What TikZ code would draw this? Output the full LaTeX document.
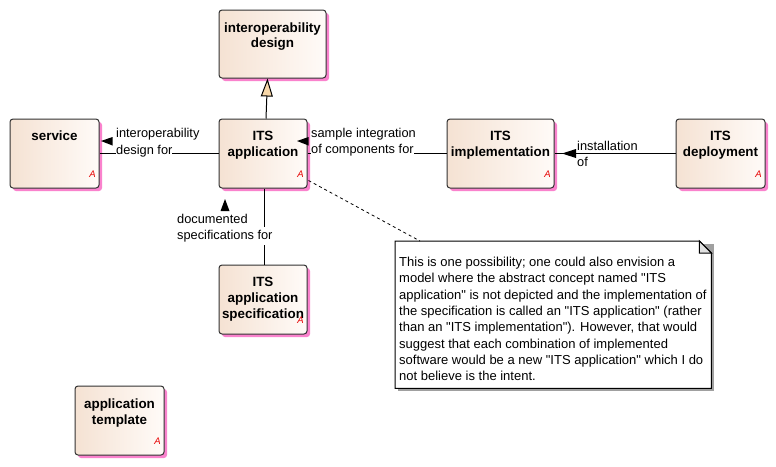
\documentclass[tikz,border=0pt]{standalone}
\usepackage{fontspec}
\setmainfont{Liberation Sans}
\usetikzlibrary{shadows,calc,arrows.meta}
\definecolor{clsL}{RGB}{245,226,211}
\definecolor{clsR}{RGB}{255,251,248}
\definecolor{clsBorder}{RGB}{50,50,50}
\definecolor{shadowpink}{RGB}{250,130,205}
\definecolor{genfill}{RGB}{247,215,168}
\definecolor{redA}{RGB}{230,0,0}
\definecolor{noteshadow}{RGB}{160,160,160}
\definecolor{foldfill}{RGB}{225,225,225}
\newcommand{\qq}{\textquotedbl{}}
\begin{document}
\begin{tikzpicture}[x=1pt,y=-1pt,
  cls/.style={draw=clsBorder, line width=1pt, rounded corners=3pt, left color=clsL, right color=clsR,
    inner sep=0pt, minimum width=89pt, minimum height=69pt,
    drop shadow={fill=shadowpink, shadow xshift=3pt, shadow yshift=-3pt, opacity=1}},
  title/.style={font=\bfseries\fontsize{13.4}{16}\selectfont, align=center, anchor=base, inner sep=0pt},
  amark/.style={font=\itshape\fontsize{9.5}{10}\selectfont, text=redA, inner sep=0pt},
  lbl/.style={font=\fontsize{12.8}{15}\selectfont, anchor=base west, inner sep=0pt},
  lblw/.style={lbl, fill=white, inner ysep=3pt},
  conn/.style={line width=1pt, draw=black},
  gen/.style={conn, -{Triangle[fill=genfill, length=18pt, width=12pt]}},
  notelink/.style={line width=0.8pt, dash pattern=on 3pt off 3pt},
  dir/.style={fill=black},
]
\useasboundingbox (0,0) rectangle (776,466);
\fill[white] (0,0) rectangle (776,466);

% classes (title anchors are the baseline of the LAST line)
\node[cls, minimum width=107pt, minimum height=68pt] (idesign) at (272.5,44) {};
\node[title, font=\bfseries\fontsize{13.4}{15}\selectfont] (idesignT) at (272.5,47.5) {interoperability\\design};

\node[cls] (service) at (54.5,153.5) {};
\node[title] (serviceT) at (54.5,140.5) {service};

\node[cls, minimum width=88pt] (app) at (263,153.5) {};
\node[title] (appT) at (263,156.5) {ITS\\application};

\node[cls, minimum width=107pt] (impl) at (500.5,153.5) {};
\node[title] (implT) at (500.5,156.5) {ITS\\implementation};

\node[cls] (deploy) at (720.5,153.5) {};
\node[title] (deployT) at (720.5,156.5) {ITS\\deployment};

\node[cls, minimum width=88pt] (spec) at (263,299.5) {};
\node[title] (specT) at (263,318.5) {ITS\\application\\specification};

\node[cls] (templ) at (119.5,420.5) {};
\node[title] (templT) at (119.5,424.5) {application\\template};

% "A" marks
\foreach \n in {service,app,impl,deploy,spec,templ}
  \node[amark] (A\n) at ($(\n.south east)+(-7,-14)$) {A};

% connectors
\draw[gen] ($(app.north)+(3,0)$) -- ($(idesign.south)+(-5,0)$);
\draw[conn] (service) -- (app);
\draw[conn] (app) -- (impl);
\draw[conn] (impl) -- (deploy);
\draw[conn] ($(app.south)+(1,0)$) -- ($(spec.north)+(1,0)$);

% direction triangles
\fill[dir] (101,141) -- (112.5,137) -- (112.5,145.5) -- cycle;
\fill[dir] (297,141) -- (308.5,137) -- (308.5,145.5) -- cycle;
\fill[dir] (562,153.5) -- (576,149) -- (576,158) -- cycle;
\fill[dir] (225,199) -- (220.5,211) -- (229.5,211) -- cycle;

% labels (white-backed first)
\node[lblw] (l1b) at (116,154.5) {design for};
\node[lbl]  (l1a) at (116,137.5) {interoperability};
\node[lblw] (l2b) at (311,153.5) {of components for};
\node[lbl]  (l2a) at (311,137.5) {sample integration};
\node[lblw] (l3b) at (577,166.5) {of};
\node[lbl]  (l3a) at (577,150.5) {installation};
\node[lblw] (l4b) at (177,239.5) {specifications for};
\node[lbl]  (l4a) at (177,223.5) {documented};

% note
\node[minimum width=316pt, minimum height=147pt, inner sep=0pt, anchor=north west] (notebox) at (395,241) {};
\fill[noteshadow] ($(notebox.north west)+(3,3)$) -- ($(notebox.north east)+(3,3)$) -- ($(notebox.south east)+(3,3)$) -- ($(notebox.south west)+(3,3)$) -- cycle;
\draw[line width=1pt, fill=white] (notebox.north west) -- ($(notebox.north east)+(-12,0)$) -- ($(notebox.north east)+(0,12)$) -- (notebox.south east) -- (notebox.south west) -- cycle;
\draw[line width=1pt, fill=foldfill] ($(notebox.north east)+(-12,0)$) -- ($(notebox.north east)+(-12,12)$) -- ($(notebox.north east)+(0,12)$) -- cycle;
\node[font=\fontsize{13}{16.3}\selectfont, align=left, anchor=base west, inner sep=0pt] (note) at (399,380.6) {This is one possibility; one could also envision a\\model where the abstract concept named \qq ITS\\application\qq\ is not depicted and the implementation of\\the specification is called an \qq ITS application\qq\ (rather\\than an \qq ITS implementation\qq). However, that would\\suggest that each combination of implemented\\software would be a new \qq ITS application\qq\ which I do\\not believe is the intent.};
\draw[notelink] ($(app.south east)+(1,-8)$) -- ($(notebox.north west)+(25,0)$);
\end{tikzpicture}
\end{document}
